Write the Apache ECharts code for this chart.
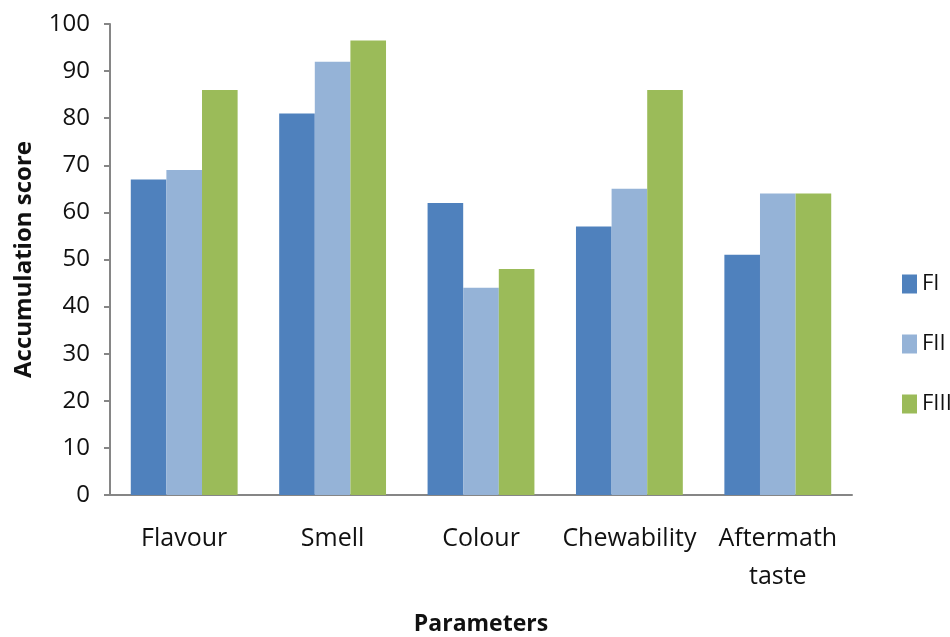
<!DOCTYPE html>
<html>
<head>
<meta charset="utf-8">
<script src="https://cdn.jsdelivr.net/npm/echarts@6/dist/echarts.min.js"></script>
<style>
html,body{margin:0;padding:0;background:#fff;}
#chart{width:950px;height:637px;}
</style>
</head>
<body>
<div id="chart"></div>
<script>
const categories = ['Flavour', 'Smell', 'Colour', 'Chewability', 'Aftermath\ntaste'];
const seriesNames = ['FI', 'FII', 'FIII'];
const FI = [67, 81, 62, 57, 51];
const FII = [69, 92, 44, 65, 64];
const FIII = [86, 96.5, 48, 86, 64];
const yTicks = {min: 0, max: 100, interval: 10};
const colors = ['#4F81BD', '#95B3D7', '#9BBB59'];

const font = "'Open Sans', sans-serif";
const chart = echarts.init(document.getElementById('chart'));
chart.setOption({
  animation: false,
  backgroundColor: '#ffffff',
  color: colors,
  grid: {left: 110, right: 98, top: 24, bottom: 142, containLabel: false, outerBoundsMode: 'none'},
  legend: {
    orient: 'vertical',
    left: 897,
    top: 268,
    itemWidth: 15,
    itemHeight: 19,
    itemGap: 38,
    icon: 'rect',
    textStyle: {fontFamily: font, fontSize: 22, color: '#111', lineHeight: 20},
    data: seriesNames
  },
  xAxis: {
    type: 'category',
    data: categories,
    name: 'Parameters',
    nameLocation: 'middle',
    nameGap: 118,
    nameTextStyle: {fontFamily: font, fontSize: 23, fontWeight: 'bold', color: '#111'},
    axisLine: {show: true, lineStyle: {color: '#868686', width: 2}},
    axisTick: {show: false},
    axisLabel: {fontFamily: font, fontSize: 25, color: '#111', margin: 25, lineHeight: 38, interval: 0}
  },
  yAxis: {
    type: 'value',
    min: yTicks.min,
    max: yTicks.max,
    interval: yTicks.interval,
    name: 'Accumulation score',
    nameLocation: 'middle',
    nameGap: 74,
    nameTextStyle: {fontFamily: font, fontSize: 24, fontWeight: 'bold', color: '#111'},
    axisLine: {show: true, lineStyle: {color: '#868686', width: 2}},
    axisTick: {show: true, inside: false, length: 6, lineStyle: {color: '#868686', width: 2}},
    axisLabel: {fontFamily: font, fontSize: 24, color: '#111', margin: 20},
    splitLine: {show: false}
  },
  series: [
    {name: seriesNames[0], type: 'bar', data: FI, barGap: '0%', barCategoryGap: '28%'},
    {name: seriesNames[1], type: 'bar', data: FII, barGap: '0%', barCategoryGap: '28%'},
    {name: seriesNames[2], type: 'bar', data: FIII, barGap: '0%', barCategoryGap: '28%'}
  ]
});
</script>
</body>
</html>
